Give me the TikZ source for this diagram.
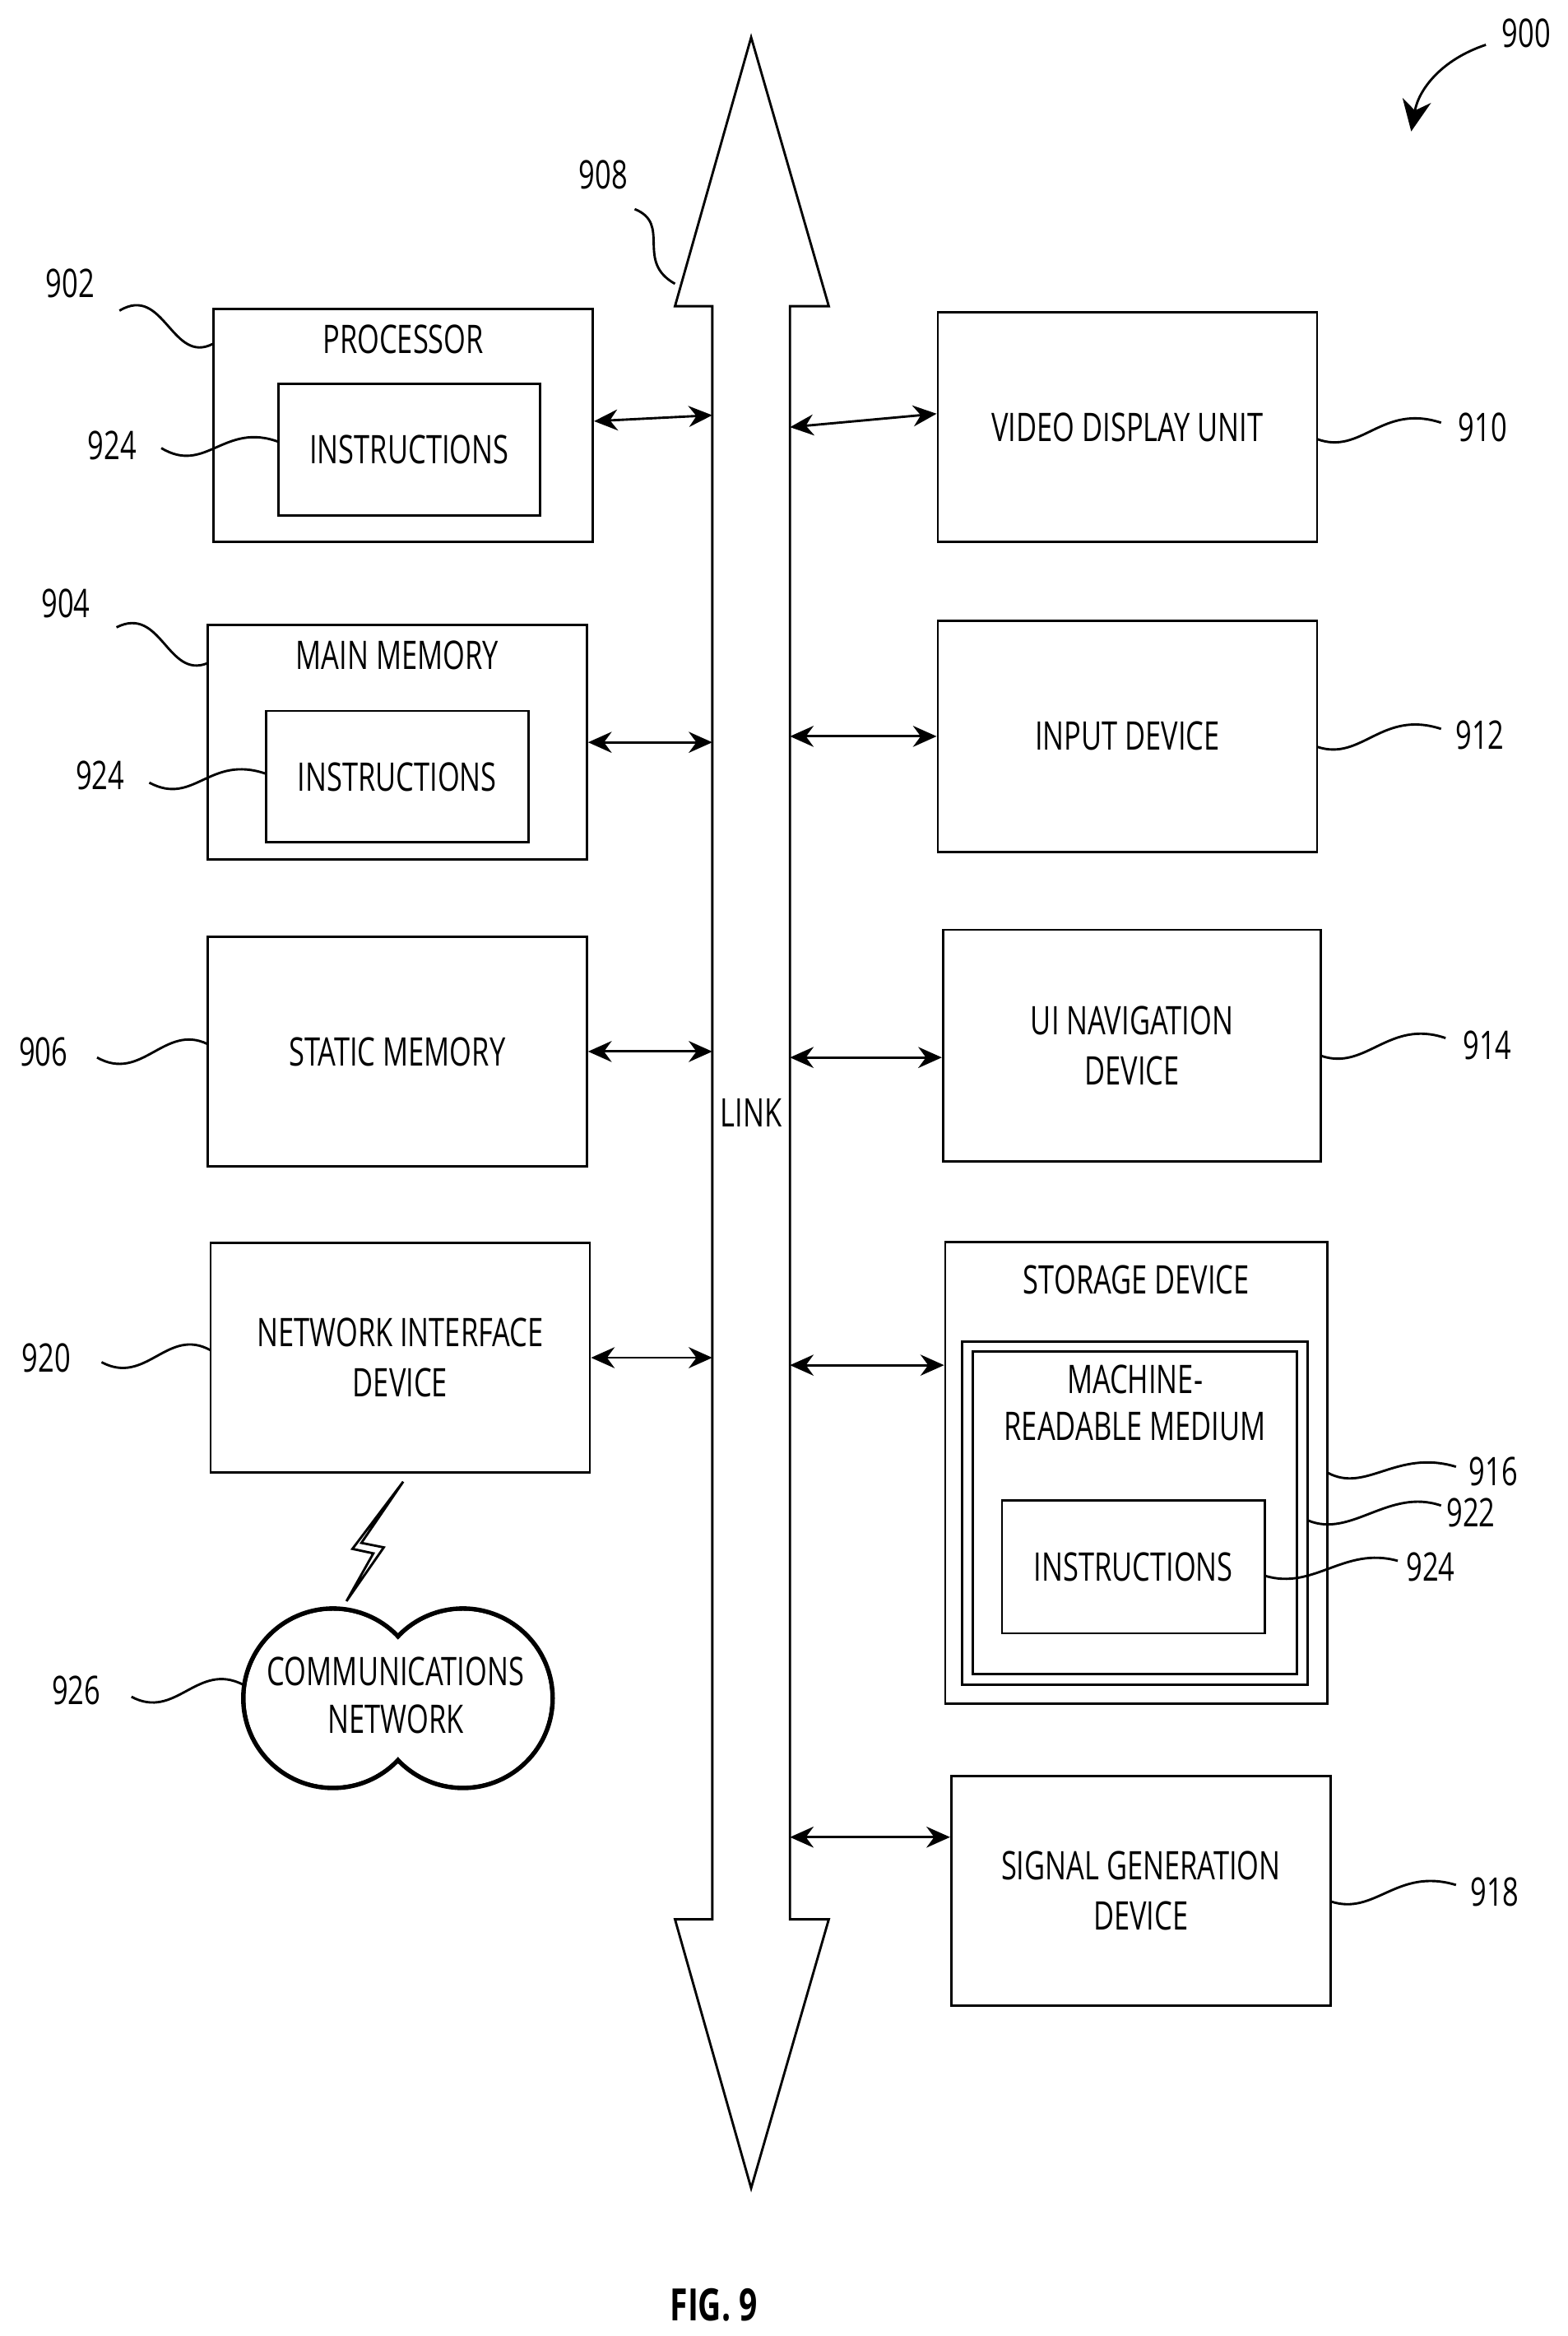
\documentclass[tikz,border=0pt]{standalone}
\usepackage{fontspec}
\setmainfont{Open Sans}[FakeStretch=0.72]
\usetikzlibrary{positioning, arrows.meta, calc}

\begin{document}
\begin{tikzpicture}[x=0.02cm,y=-0.02cm,line width=0.9pt,
                    box/.style={draw,rectangle,font=\fontsize{15}{19}\selectfont,align=center,inner sep=0pt},
                    lbl/.style={font=\fontsize{15}{18}\selectfont,inner sep=1pt},
                    link/.style={{Stealth[length=9pt,width=8pt]}-{Stealth[length=9pt,width=8pt]},line width=0.9pt},
                    wave/.style={line width=0.9pt}]
\useasboundingbox (0,0) rectangle (1050,1564);

% bus
\draw (477,205) -- (452,205) -- (503,25) -- (555,205) -- (529,205)
      -- (529,1285) -- (555,1285) -- (503,1465) -- (452,1285) -- (477,1285) -- cycle;
\node[lbl] (Link) at (503,745) {LINK};
\coordinate (BusL) at (477,0);
\coordinate (BusR) at (529,0);

% left column
\node[box,minimum width=254*0.02cm,minimum height=156*0.02cm] (Proc) at (270,285) {};
\node[lbl,below=5pt of Proc.north] (ProcLabel) {PROCESSOR};
\node[box,minimum width=175*0.02cm,minimum height=88*0.02cm] (ProcInstr) at (274,301) {INSTRUCTIONS};

\node[box,minimum width=254*0.02cm,minimum height=157*0.02cm] (MainMem) at (266,497) {};
\node[lbl,below=5pt of MainMem.north] (MainMemLabel) {MAIN MEMORY};
\node[box,minimum width=176*0.02cm,minimum height=88*0.02cm] (MemInstr) at (266,520) {INSTRUCTIONS};

\node[box,minimum width=254*0.02cm,minimum height=154*0.02cm] (StatMem) at (266,704) {STATIC MEMORY};
\node[box,minimum width=254*0.02cm,minimum height=154*0.02cm] (NetIf) at (268,909) {NETWORK INTERFACE\\DEVICE};

% right column
\node[box,minimum width=254*0.02cm,minimum height=154*0.02cm] (Video) at (755,286) {VIDEO DISPLAY UNIT};
\node[box,minimum width=254*0.02cm,minimum height=155*0.02cm] (Input) at (755,493) {INPUT DEVICE};
\node[box,minimum width=253*0.02cm,minimum height=155*0.02cm] (UINav) at (758,700) {UI NAVIGATION\\DEVICE};
\node[box,minimum width=256*0.02cm,minimum height=309*0.02cm] (Storage) at (761,986) {};
\node[lbl,below=8pt of Storage.north] (StorageLabel) {STORAGE DEVICE};
\node[box,minimum width=231*0.02cm,minimum height=230*0.02cm] (MRM) at (760,1013) {};
\node[box,minimum width=217*0.02cm,minimum height=216*0.02cm] (MRMin) at (760,1013) {};
\node[lbl,align=center,below=4pt of MRMin.north] (MRMLabel) {MACHINE-\\READABLE MEDIUM};
\node[box,minimum width=176*0.02cm,minimum height=89*0.02cm] (StoInstr) at (759,1049) {INSTRUCTIONS};
\node[box,minimum width=254*0.02cm,minimum height=154*0.02cm] (SigGen) at (764,1266) {SIGNAL GENERATION\\DEVICE};

% connectors to the bus
\draw[link] (Proc.east |- 0,282) -- (BusL |- 0,278);
\draw[link] (BusR |- 0,286) -- (Video.west |- 0,277);
\foreach \n in {MainMem,StatMem,NetIf}
  \draw[link] (\n.east) -- (BusL |- \n.east);
\foreach \n/\y in {Input/493,UINav/708,SigGen/1230}
  \draw[link] (BusR |- 0,\y) -- (\n.west |- 0,\y);
\draw[link] (BusR |- 0,914) -- (Storage.west |- 0,914);

% network cloud and lightning
\draw[line width=1.8pt] (223,1137) circle (60) (310,1137) circle (60);
\fill[white] (223,1137) circle (58.5) (310,1137) circle (58.5);
\node[lbl,align=center,inner sep=0pt] (Cloud) at (265,1135) {COMMUNICATIONS\\NETWORK};
\draw[fill=white] (270,992) -- (242,1033) -- (257,1036) -- (232,1072) -- (250,1040) -- (236,1037) -- cycle;

% reference numerals
\node[lbl] (N900) at (1022,22) {900};
\node[lbl] (N902) at (47,190) {902};
\node[lbl] (N904) at (44,404) {904};
\node[lbl] (N906) at (29,704) {906};
\node[lbl] (N908) at (404,117) {908};
\node[lbl] (N920) at (31,909) {920};
\node[lbl] (N926) at (51,1132) {926};
\node[lbl] (N924a) at (75,298) {924};
\node[lbl] (N924b) at (67,519) {924};
\node[lbl] (N910) at (993,286) {910};
\node[lbl] (N912) at (991,492) {912};
\node[lbl] (N914) at (996,700) {914};
\node[lbl] (N916) at (1000,985) {916};
\node[lbl] (N922) at (985,1013) {922};
\node[lbl] (N924c) at (958,1049) {924};
\node[lbl] (N918) at (1001,1267) {918};

\coordinate (E900) at (945,88);
\draw[wave,-{Stealth[length=12pt,width=11pt]}] (995,30) .. controls (965,40) and (950,60) .. (E900);
\draw[wave] (80,208) .. controls (110,190) and (115,245) .. (143,230);
\draw[wave] (78,420) .. controls (108,405) and (112,455) .. (139,444);
\draw[wave] (65,708) .. controls (95,725) and (110,685) .. (139,699);
\draw[wave] (425,140) .. controls (450,150) and (425,175) .. (452,190);
\draw[wave] (68,912) .. controls (98,928) and (112,888) .. (141,904);
\draw[wave] (88,1136) .. controls (118,1152) and (132,1112) .. (163,1128);
\draw[wave] (108,300) .. controls (138,318) and (150,282) .. (187,296);
\draw[wave] (100,524) .. controls (130,540) and (140,505) .. (178,518);
\draw[wave] (882,294) .. controls (912,305) and (925,270) .. (965,283);
\draw[wave] (882,500) .. controls (912,510) and (925,475) .. (965,488);
\draw[wave] (885,707) .. controls (915,717) and (930,682) .. (968,695);
\draw[wave] (889,986) .. controls (915,1000) and (935,970) .. (975,982);
\draw[wave] (876,1018) .. controls (905,1030) and (930,996) .. (965,1008);
\draw[wave] (847,1055) .. controls (880,1065) and (900,1035) .. (936,1045);
\draw[wave] (891,1273) .. controls (921,1283) and (935,1250) .. (975,1262);

\node[font=\fontsize{17}{19}\selectfont\bfseries] (Fig) at (478,1543) {FIG. 9};
\end{tikzpicture}
\end{document}
